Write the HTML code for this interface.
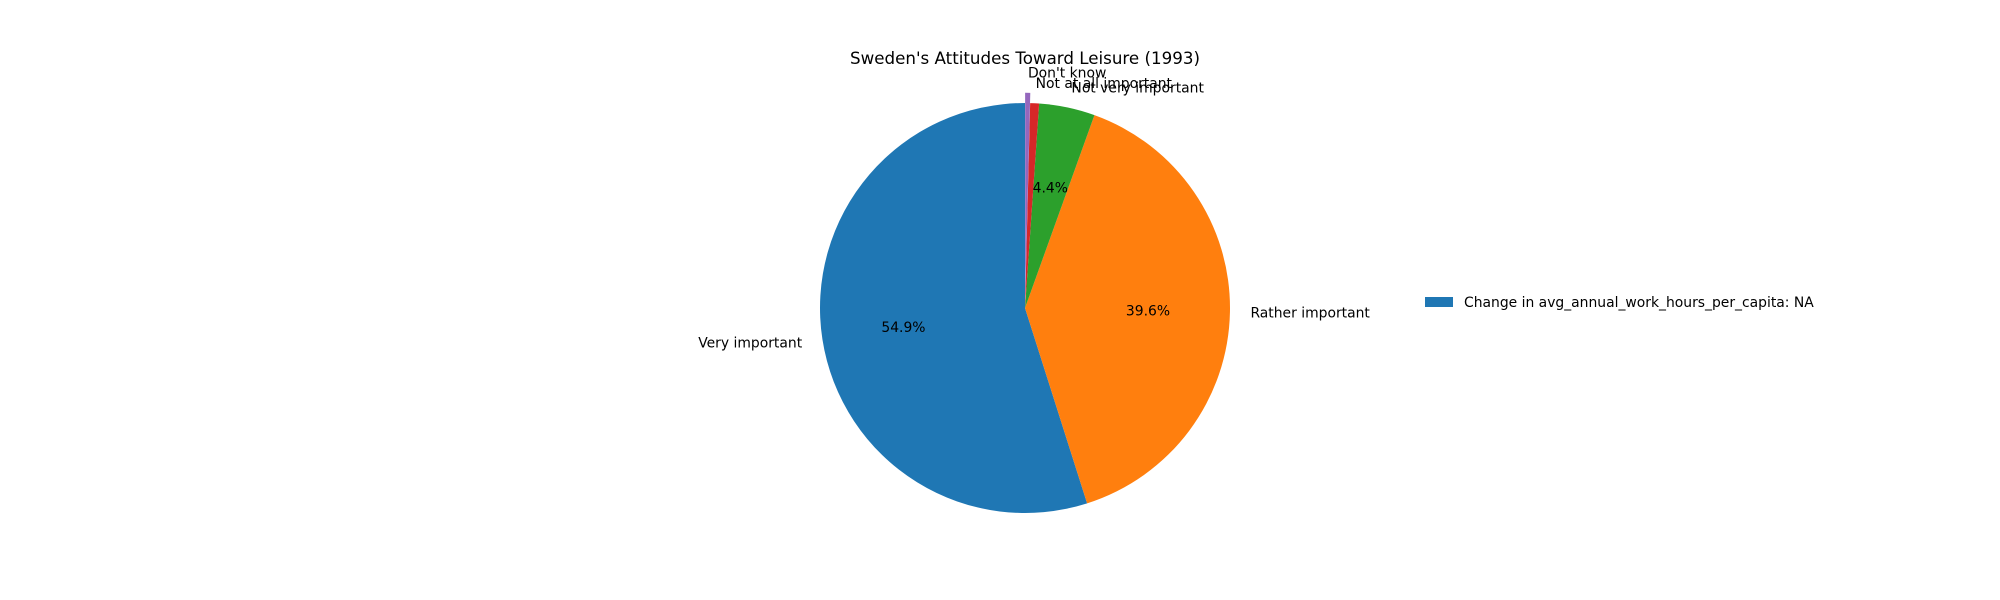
<!DOCTYPE html>
<html><head><meta charset="utf-8"><style>
body{margin:0;background:#fff;}
svg{display:block;font-family:"DejaVu Sans","Liberation Sans",sans-serif;}
</style></head><body>
<svg id="chart" width="2000" height="600" viewBox="0 0 2000 600">
<text x="1025" y="64" text-anchor="middle" font-size="16.7" fill="#000">Sweden's Attitudes Toward Leisure (1993)</text>
<g id="slices"></g>
<g id="labels"></g>
<rect x="1425" y="297" width="28" height="10" fill="#1f77b4"/>
<text x="1464" y="307" font-size="13.9" fill="#000">Change in avg_annual_work_hours_per_capita: NA</text>
</svg>
<script>
const categories = ["Very important","Rather important","Not very important","Not at all important","Don't know"];
const values = [54.9, 39.6, 4.4, 0.7, 0.4];
const pctLabels = ["54.9%","39.6%","4.4%","",""];
const explode = [0,0,0,0,0.05];
const colors = ["#1f77b4","#ff7f0e","#2ca02c","#d62728","#9467bd"];
const cx=1025, cy=308, R=205;
const NS="http://www.w3.org/2000/svg";
const gS=document.getElementById('slices'), gL=document.getElementById('labels');
const total=values.reduce((a,b)=>a+b,0);
let ang=90;
values.forEach((v,i)=>{
  const span=v/total*360, a0=ang, a1=ang+span, mid=(a0+a1)/2*Math.PI/180;
  ang=a1;
  const ox=cx+explode[i]*R*Math.cos(mid), oy=cy-explode[i]*R*Math.sin(mid);
  const r0=a0*Math.PI/180, r1=a1*Math.PI/180;
  const x0=ox+R*Math.cos(r0), y0=oy-R*Math.sin(r0), x1=ox+R*Math.cos(r1), y1=oy-R*Math.sin(r1);
  const p=document.createElementNS(NS,'path');
  p.setAttribute('d',`M${ox},${oy} L${x0},${y0} A${R},${R} 0 ${span>180?1:0} 0 ${x1},${y1} Z`);
  p.setAttribute('fill',colors[i]);
  
  
  gS.appendChild(p);
  const lx=ox+1.1*R*Math.cos(mid), ly=oy-1.1*R*Math.sin(mid);
  const t=document.createElementNS(NS,'text');
  t.setAttribute('x',lx); t.setAttribute('y',ly+5);
  t.setAttribute('font-size','13.9');
  t.setAttribute('text-anchor',Math.cos(mid)>=0?'start':'end');
  t.textContent=categories[i];
  
  
  gL.appendChild(t);
  if(pctLabels[i]){
    const q=document.createElementNS(NS,'text');
    q.setAttribute('x',ox+0.6*R*Math.cos(mid)); q.setAttribute('y',oy-0.6*R*Math.sin(mid)+5);
    q.setAttribute('font-size','13.9'); q.setAttribute('text-anchor','middle');
    q.textContent=pctLabels[i];
    
    
    gL.appendChild(q);
  }
});
</script>
</body></html>
